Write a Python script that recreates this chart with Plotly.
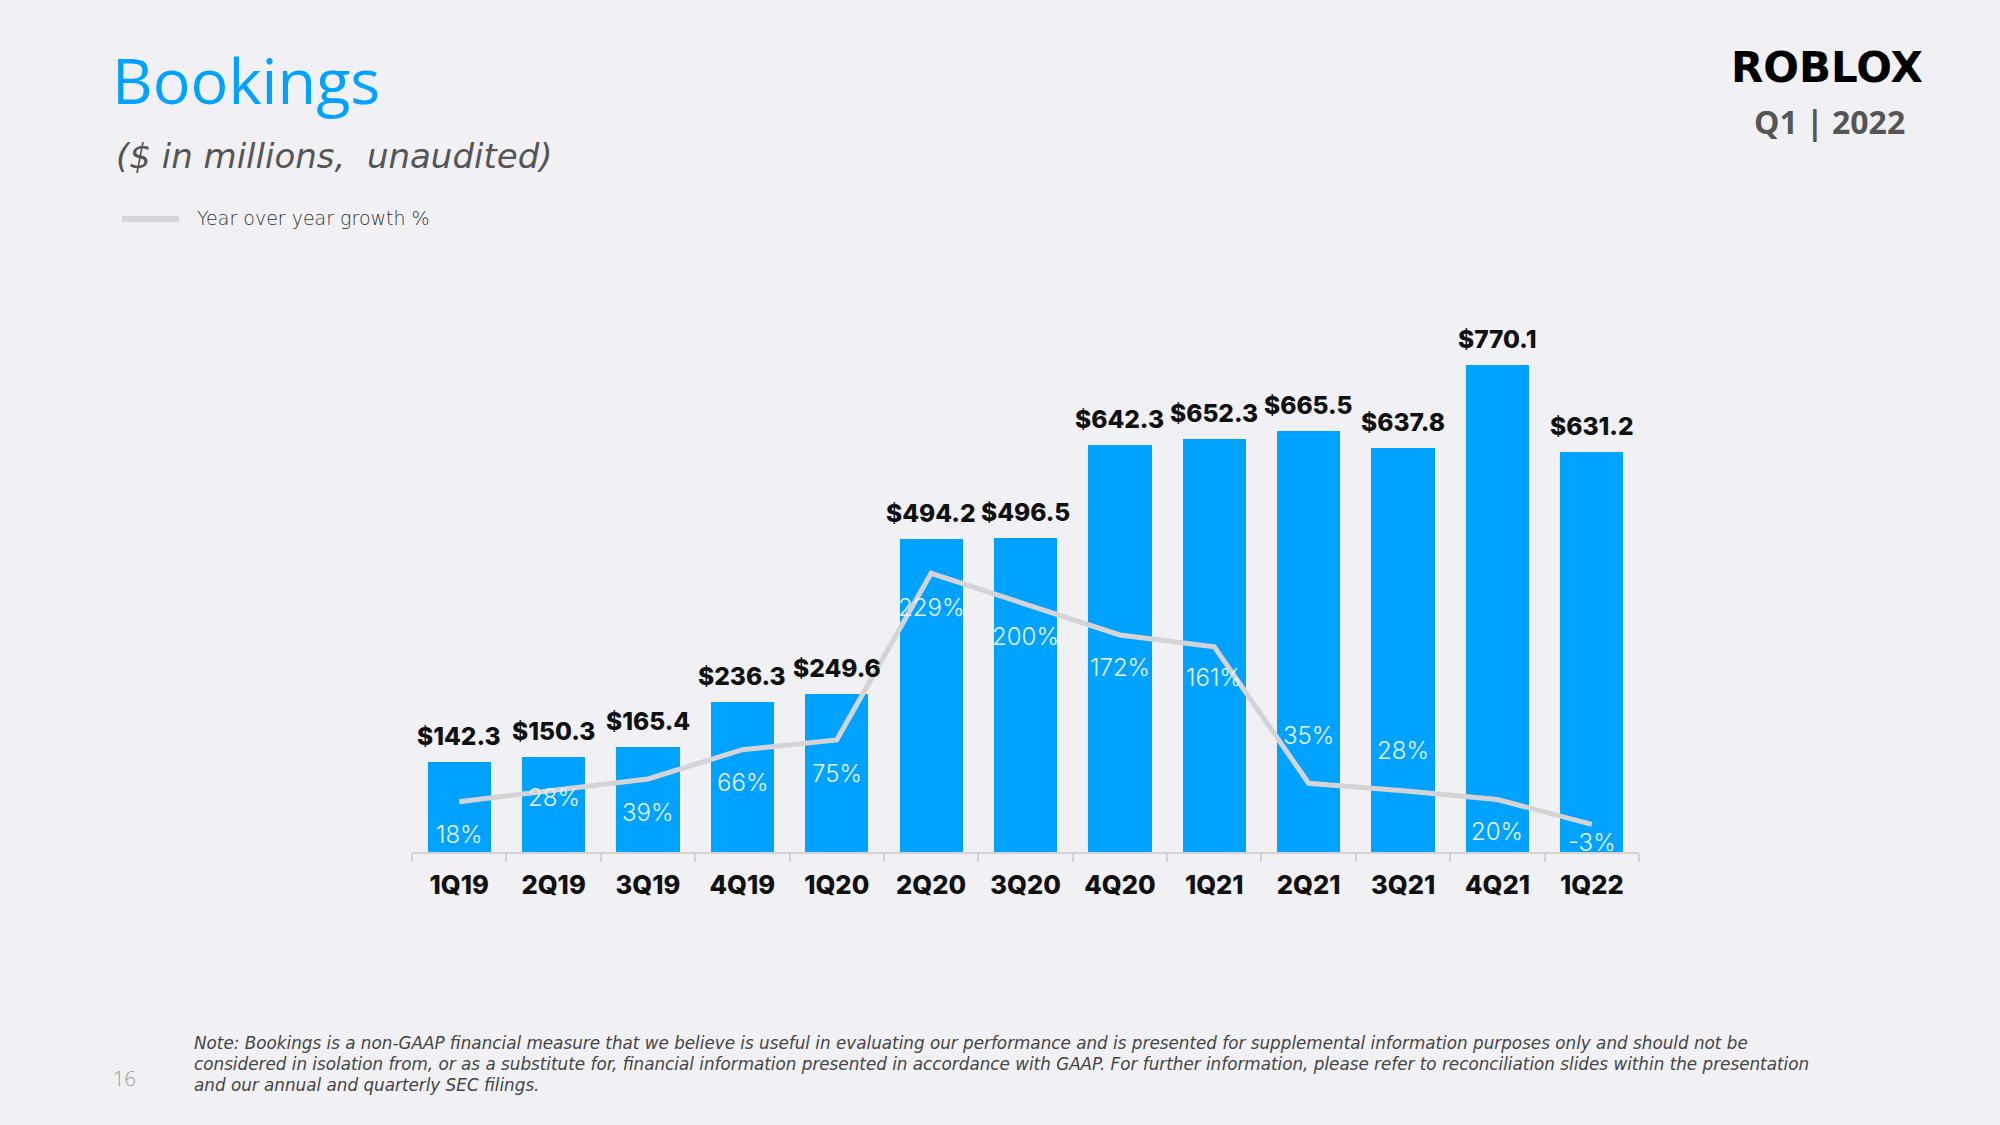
import plotly.graph_objects as go

# ---- data ----
quarters = ["1Q19", "2Q19", "3Q19", "4Q19", "1Q20", "2Q20", "3Q20",
            "4Q20", "1Q21", "2Q21", "3Q21", "4Q21", "1Q22"]
bookings = [142.3, 150.3, 165.4, 236.3, 249.6, 494.2, 496.5,
            642.3, 652.3, 665.5, 637.8, 770.1, 631.2]
yoy_growth = [18, 28, 39, 66, 75, 229, 200, 172, 161, 35, 28, 20, -3]

# ---- styling (label placement offsets in px, positive = below the line point) ----
pct_label_offset = [33, 7, 34, 33, 34, 34, 32, 33, 31, -48, -40, 32, 18]

W, H = 2000, 1125
PL, PR, PT, PB = 412, 1639, 300, 852  # plot area in px
BG = "#f0f0f5"
BLUE = "#00a2ff"
FONT = "Open Sans"


def px(xp, yp):
    return (xp - PL) / (PR - PL), (PB - yp) / (PB - PT)


fig = go.Figure()

fig.add_trace(go.Bar(
    x=quarters, y=bookings, marker=dict(color=BLUE, line=dict(width=0)),
    width=0.67, showlegend=False, hoverinfo="skip",
))

fig.add_trace(go.Scatter(
    x=quarters, y=yoy_growth, yaxis="y2", mode="lines",
    line=dict(color="#d4d4d6", width=5), showlegend=False, hoverinfo="skip",
))

annotations = []
# value labels above bars
for q, v in zip(quarters, bookings):
    annotations.append(dict(
        x=q, y=v, xref="x", yref="y", yanchor="bottom", yshift=9,
        text=f"${v:.1f}", showarrow=False,
        font=dict(family="Inter", size=24.5, color="#111111", weight=800),
    ))
# growth % labels
for q, g, off in zip(quarters, yoy_growth, pct_label_offset):
    annotations.append(dict(
        x=q, y=g, xref="x", yref="y2", yanchor="middle", yshift=-off,
        text=f"{g}%", showarrow=False,
        font=dict(family="Inter", size=24, color="#e6f4ff", weight=300),
    ))


def add_text(text, xp, yp, size, color, xanchor="left", family=FONT,
             weight=400, style="normal"):
    x, y = px(xp, yp)
    annotations.append(dict(
        x=x, y=y, xref="paper", yref="paper", xanchor=xanchor, yanchor="middle",
        text=text, showarrow=False,
        font=dict(family=family, size=size, color=color, weight=weight, style=style),
    ))


add_text("Bookings", 110, 79, 63, BLUE)
add_text("($ in millions,  unaudited)", 114, 156, 34, "#555555",
         family="DejaVu Sans", style="italic")
add_text("Year over year growth %", 195, 218, 19, "#333333",
         family="DejaVu Sans", weight=300)
add_text("ROBLOX", 1827, 68, 42, "#000000", xanchor="center",
         family="DejaVu Sans", weight=900)
add_text("Q1 | 2022", 1829, 121, 32, "#555555", xanchor="center",
         family=FONT, weight=700)
add_text("16", 124, 1078, 20, "#999999", xanchor="center", weight=300)

note_lines = [
    "Note: Bookings is a non-GAAP financial measure that we believe is useful in evaluating our performance and is presented for supplemental information purposes only and should not be",
    "considered in isolation from, or as a substitute for, financial information presented in accordance with GAAP. For further information, please refer to reconciliation slides within the presentation",
    "and our annual and quarterly SEC filings.",
]
for i, line in enumerate(note_lines):
    add_text(line, 192, 1043 + 21 * i, 16.8, "#444444", family="DejaVu Sans",
             style="italic", weight=300)

# legend swatch
lx0, ly0 = px(122, 219)
lx1, _ = px(179, 219)

fig.update_layout(
    width=W, height=H,
    margin=dict(l=PL, r=W - PR, t=PT, b=H - PB, pad=0),
    paper_bgcolor=BG, plot_bgcolor=BG,
    bargap=0,
    xaxis=dict(
        type="category", categoryorder="array", categoryarray=quarters,
        range=[-0.5, 12.5], showgrid=False, zeroline=False,
        showline=True, linecolor="#d2d2d4", linewidth=2,
        ticks="outside", tickson="boundaries", ticklen=8, tickwidth=2,
        tickcolor="#d2d2d4", ticklabelstandoff=9,
        tickfont=dict(family="Inter", size=25.5, color="#111111", weight=800),
    ),
    yaxis=dict(range=[0, 872], visible=False, fixedrange=True),
    yaxis2=dict(range=[-28.5, 481.5], overlaying="y", visible=False),
    annotations=annotations,
    shapes=[dict(type="line", xref="paper", yref="paper",
                 x0=lx0, x1=lx1, y0=ly0, y1=ly0,
                 line=dict(color="#d6d6d8", width=6))],
    showlegend=False,
)

fig.write_html("out.html", config={"displayModeBar": False},
               post_script="document.body.style.margin='0';document.body.style.background='#f0f0f5';")
